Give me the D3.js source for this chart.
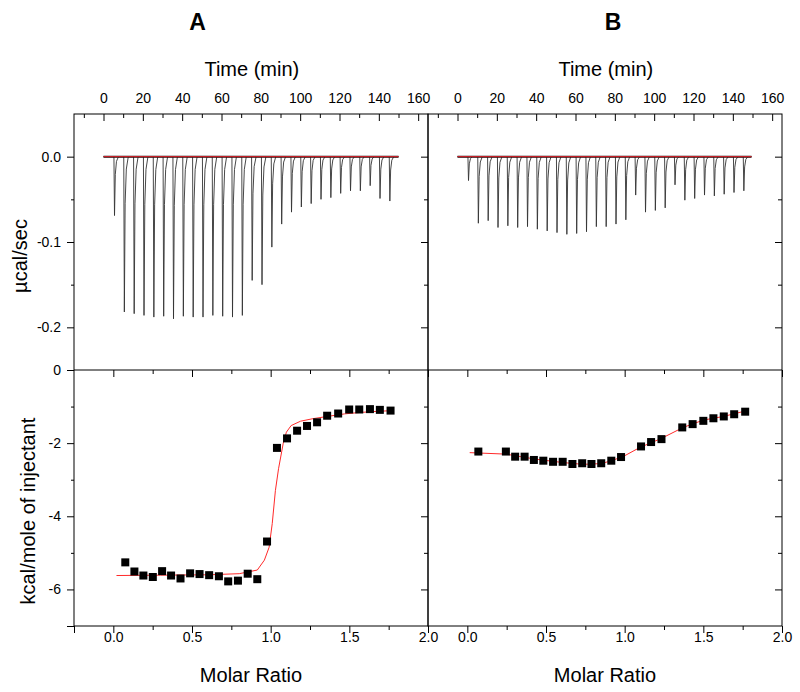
<!DOCTYPE html>
<html>
<head>
<meta charset="utf-8">
<script src="https://cdn.jsdelivr.net/npm/d3@7"></script>
<style>
  body { margin: 0; background: #fff; }
  text { font-family: Arial, "Liberation Sans", sans-serif; fill: #000; }
</style>
</head>
<body>
<div id="chart"></div>
<script>
// injection times (min) and peak heights (µcal/sec) of the raw thermograms
const injTimes = [5.4, 10.4, 15.4, 20.4, 25.4, 30.4, 35.4, 40.4, 45.4, 50.4, 55.4, 60.4, 65.4, 70.4, 75.4,
  80.4, 85.4, 90.4, 95.4, 100.4, 105.4, 110.4, 115.4, 120.4, 125.4, 130.4, 135.4, 140.4, 145.4];
const peaksA = [-0.069, -0.182, -0.184, -0.186, -0.188, -0.187, -0.190, -0.187, -0.188, -0.188, -0.186, -0.187,
  -0.188, -0.186, -0.145, -0.150, -0.106, -0.079, -0.065, -0.059, -0.055, -0.050, -0.048, -0.043, -0.040,
  -0.040, -0.034, -0.049, -0.052];
const peaksB = [-0.028, -0.078, -0.075, -0.083, -0.081, -0.083, -0.082, -0.085, -0.087, -0.089, -0.091, -0.090,
  -0.088, -0.082, -0.082, -0.079, -0.074, -0.045, -0.065, -0.063, -0.060, -0.033, -0.051, -0.049, -0.045,
  -0.046, -0.044, -0.042, -0.040];
const traceEnd = [150, 149.5];

// integrated heats (kcal/mole of injectant) vs molar ratio
const ratioA = [0.076, 0.134, 0.191, 0.251, 0.310, 0.367, 0.427, 0.488, 0.548, 0.609, 0.671, 0.730, 0.792, 0.854,
  0.915, 0.977, 1.040, 1.104, 1.168, 1.231, 1.295, 1.359, 1.429, 1.499, 1.563, 1.631, 1.694, 1.762];
const heatA = [-5.26, -5.51, -5.62, -5.66, -5.50, -5.62, -5.70, -5.56, -5.58, -5.61, -5.64, -5.78, -5.76, -5.57,
  -5.72, -4.69, -2.13, -1.87, -1.66, -1.53, -1.43, -1.25, -1.19, -1.08, -1.08, -1.07, -1.09, -1.11];
const fitRatioA = [0.02, 0.30, 0.60, 0.80, 0.915, 0.96, 0.99, 1.01, 1.03, 1.05, 1.08, 1.10, 1.13, 1.19, 1.27,
  1.36, 1.47, 1.57, 1.68, 1.78];
const fitHeatA = [-5.62, -5.61, -5.60, -5.57, -5.47, -5.20, -4.85, -4.20, -3.30, -2.70, -2.00, -1.70, -1.52,
  -1.40, -1.33, -1.27, -1.20, -1.16, -1.13, -1.11];

const ratioB = [0.070, 0.245, 0.304, 0.364, 0.423, 0.483, 0.545, 0.606, 0.668, 0.730, 0.789, 0.851, 0.915, 0.977,
  1.104, 1.168, 1.234, 1.366, 1.432, 1.500, 1.564, 1.630, 1.696, 1.766];
const heatB = [-2.23, -2.23, -2.37, -2.37, -2.46, -2.48, -2.51, -2.51, -2.57, -2.55, -2.57, -2.55, -2.48, -2.38,
  -2.09, -1.97, -1.89, -1.57, -1.48, -1.39, -1.32, -1.27, -1.21, -1.14];
const fitRatioB = [0.015, 0.245, 0.436, 0.606, 0.734, 0.851, 0.915, 0.989, 1.096, 1.234, 1.372, 1.500, 1.628, 1.777];
const fitHeatB = [-2.26, -2.30, -2.44, -2.53, -2.58, -2.56, -2.48, -2.37, -2.12, -1.87, -1.57, -1.37, -1.27, -1.11];

// tick values
const timeMajor = [0, 20, 40, 60, 80, 100, 120, 140, 160];
const timeMinor = [-10, 10, 30, 50, 70, 90, 110, 130, 150];
const powerMajor = [0, -0.1, -0.2];
const powerMinor = [-0.05, -0.15];
const heatMajor = [0, -2, -4, -6];
const heatMinor = [-1, -3, -5, -7];
const ratioMajor = [0, 0.5, 1.0, 1.5, 2.0];
const ratioMinor = [0.25, 0.75, 1.25, 1.75];

const width = 800, height = 692;
const xL = 74, xMid = 428, xR = 782;
const yTop = 114, yMid = 370, yBot = 626;

const svg = d3.select('#chart').append('svg')
  .attr('width', width).attr('height', height);

const yPower = d3.scaleLinear().domain([-0.25, 0.05]).range([yMid, yTop]);
const yHeat = d3.scaleLinear().domain([-7, 0]).range([yBot, yMid]);

const panels = [
  { name: 'A', titleX: 197.5, left: xL, right: xMid, peaks: peaksA, end: traceEnd[0], ratio: ratioA, heat: heatA, fitX: fitRatioA, fitY: fitHeatA },
  { name: 'B', titleX: 613, left: xMid, right: xR, peaks: peaksB, end: traceEnd[1], ratio: ratioB, heat: heatB, fitX: fitRatioB, fitY: fitHeatB },
];

// draw an axis of ticks only (no domain line)
function ticks(g, axis) {
  g.call(axis).attr('font-size', 14);
  g.select('.domain').remove();
  g.selectAll('.tick line').attr('stroke', '#000');
  return g;
}

panels.forEach((p) => {
  const xTime = d3.scaleLinear().domain([-15, 165]).range([p.left, p.right]);
  const xRatio = d3.scaleLinear().domain([-0.25, 2.0]).range([p.left, p.right]);

  // panel letter and top title
  svg.append('text').attr('x', p.titleX).attr('y', 29.5).attr('text-anchor', 'middle')
    .attr('font-size', 23).attr('font-weight', 'bold').text(p.name);
  svg.append('text').attr('x', xTime(80) - 9).attr('y', 76)
    .attr('text-anchor', 'middle').attr('font-size', 20).text('Time (min)');

  // --- top panel: raw power trace
  const trace = [[0, 0]];
  injTimes.forEach((t, k) => {
    const h = p.peaks[k];
    trace.push([t - 0.1, 0], [t + 0.2, h], [t + 0.6, h * 0.3], [t + 1.2, h * 0.08], [t + 2.2, 0]);
  });
  trace.push([p.end, 0]);
  const line = d3.line().x(d => xTime(d[0])).y(d => yPower(d[1]));
  svg.append('path').attr('d', line(trace)).attr('fill', 'none')
    .attr('stroke', '#333').attr('stroke-width', 0.9);
  svg.append('path').attr('d', line([[0, 0], [p.end, 0]])).attr('fill', 'none')
    .attr('stroke', '#111').attr('stroke-width', 2);
  svg.append('path').attr('d', line([[0, 0], [p.end, 0]])).attr('fill', 'none')
    .attr('stroke', '#e8202a').attr('stroke-width', 1);

  // time axis on top (ticks inward)
  ticks(svg.append('g').attr('transform', `translate(0,${yTop})`),
    d3.axisTop(xTime).tickValues(timeMajor).tickSize(-7).tickPadding(11).tickSizeOuter(0));
  ticks(svg.append('g').attr('transform', `translate(0,${yTop})`),
    d3.axisTop(xTime).tickValues(timeMinor).tickSize(-4).tickFormat('').tickSizeOuter(0));

  // --- bottom panel: integrated heats and fit
  const fitLine = d3.line().x(d => xRatio(d[0])).y(d => yHeat(d[1]));
  svg.append('path').attr('d', fitLine(p.fitX.map((v, k) => [v, p.fitY[k]])))
    .attr('fill', 'none').attr('stroke', '#ff2a2a').attr('stroke-width', 1);
  svg.append('g').selectAll('rect').data(p.ratio.map((v, k) => [v, p.heat[k]])).join('rect')
    .attr('x', d => xRatio(d[0]) - 4).attr('y', d => yHeat(d[1]) - 4)
    .attr('width', 8).attr('height', 8).attr('fill', '#000');

  // ratio axis at the bottom (outward, labelled)
  ticks(svg.append('g').attr('transform', `translate(0,${yBot})`),
    d3.axisBottom(xRatio).tickValues(ratioMajor).tickSize(7).tickPadding(-1)
      .tickFormat(d => d.toFixed(1)).tickSizeOuter(0));
  ticks(svg.append('g').attr('transform', `translate(0,${yBot})`),
    d3.axisBottom(xRatio).tickValues([-0.25]).tickSize(7).tickFormat('').tickSizeOuter(0));
  ticks(svg.append('g').attr('transform', `translate(0,${yBot})`),
    d3.axisBottom(xRatio).tickValues(ratioMinor).tickSize(4).tickFormat('').tickSizeOuter(0));
  // ratio ticks on the top edge of the bottom panel (inward)
  ticks(svg.append('g').attr('transform', `translate(0,${yMid})`),
    d3.axisBottom(xRatio).tickValues(ratioMajor).tickSize(7).tickFormat('').tickSizeOuter(0));
  ticks(svg.append('g').attr('transform', `translate(0,${yMid})`),
    d3.axisBottom(xRatio).tickValues(ratioMinor).tickSize(4).tickFormat('').tickSizeOuter(0));

  svg.append('text').attr('x', xRatio(0.875)).attr('y', 681.5).attr('text-anchor', 'middle')
    .attr('font-size', 20).text('Molar Ratio');

  // right edge ticks of both panels (inward)
  ticks(svg.append('g').attr('transform', `translate(${p.right},0)`),
    d3.axisRight(yPower).tickValues(powerMajor).tickSize(-7).tickFormat('').tickSizeOuter(0));
  ticks(svg.append('g').attr('transform', `translate(${p.right},0)`),
    d3.axisRight(yPower).tickValues(powerMinor).tickSize(-4).tickFormat('').tickSizeOuter(0));
  ticks(svg.append('g').attr('transform', `translate(${p.right},0)`),
    d3.axisRight(yHeat).tickValues(heatMajor.slice(1)).tickSize(-7).tickFormat('').tickSizeOuter(0));
  ticks(svg.append('g').attr('transform', `translate(${p.right},0)`),
    d3.axisRight(yHeat).tickValues(heatMinor.slice(0, 3)).tickSize(-4).tickFormat('').tickSizeOuter(0));

  // frames
  svg.append('rect').attr('x', p.left).attr('y', yTop).attr('width', p.right - p.left)
    .attr('height', yBot - yTop).attr('fill', 'none').attr('stroke', '#000').attr('stroke-width', 1);
});

// shared left axes (panel A only, outward and labelled)
ticks(svg.append('g').attr('transform', `translate(${xL},0)`),
  d3.axisLeft(yPower).tickValues(powerMajor).tickSize(7).tickPadding(6).tickFormat(d => d.toFixed(1)));
ticks(svg.append('g').attr('transform', `translate(${xL},0)`),
  d3.axisLeft(yPower).tickValues(powerMinor).tickSize(3).tickFormat(''));
ticks(svg.append('g').attr('transform', `translate(${xL},0)`),
  d3.axisLeft(yHeat).tickValues(heatMajor).tickSize(7).tickPadding(6).tickFormat(d => String(d)));
ticks(svg.append('g').attr('transform', `translate(${xL},0)`),
  d3.axisLeft(yHeat).tickValues([-7]).tickSize(7).tickFormat(''));
ticks(svg.append('g').attr('transform', `translate(${xL},0)`),
  d3.axisLeft(yHeat).tickValues(heatMinor.slice(0, 3)).tickSize(3).tickFormat(''));

// horizontal divider between the two rows
svg.append('line').attr('x1', xL).attr('x2', xR).attr('y1', yMid).attr('y2', yMid).attr('stroke', '#000');

// y axis titles
svg.append('text').attr('transform', `translate(27,256) rotate(-90)`).attr('text-anchor', 'middle')
  .attr('font-size', 20).text('µcal/sec');
svg.append('text').attr('transform', `translate(34.5,511) rotate(-90)`).attr('text-anchor', 'middle')
  .attr('font-size', 20).text('kcal/mole of injectant');
</script>
</body>
</html>
